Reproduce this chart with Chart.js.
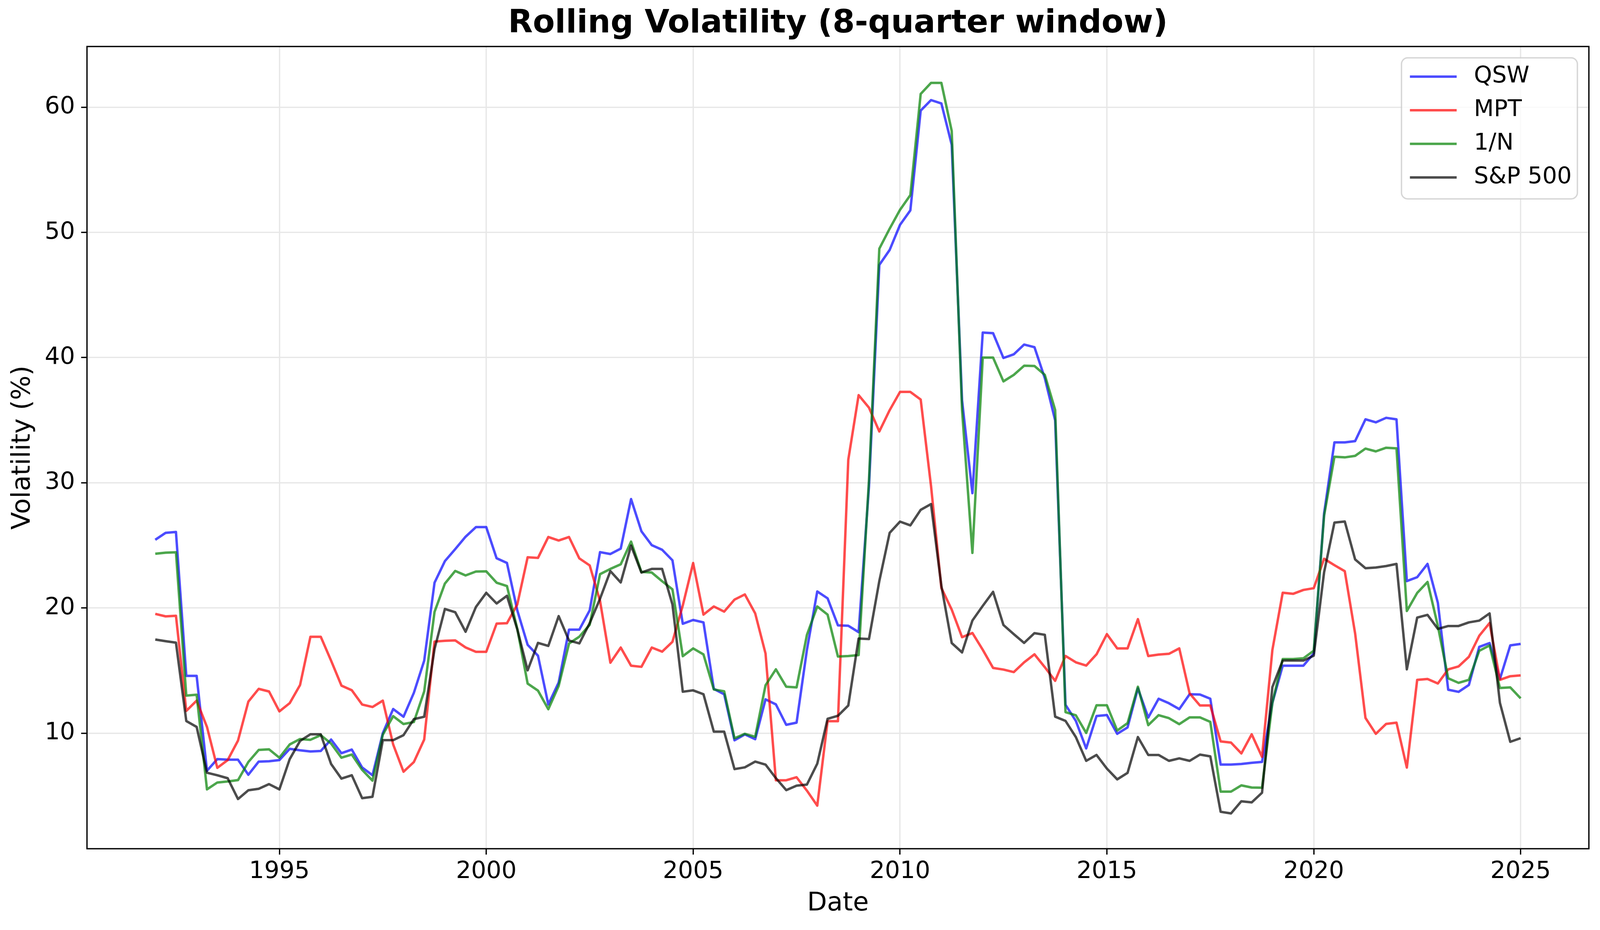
<!DOCTYPE html>
<html>
<head>
<meta charset="utf-8">
<script src="https://cdn.jsdelivr.net/npm/chart.js@4.4.1/dist/chart.umd.min.js"></script>
<style>
  html, body { margin: 0; padding: 0; background: #fff; overflow: hidden; }
  canvas { display: block; }
</style>
</head>
<body>
<canvas id="volChart"></canvas>
<script>
// quarterly points, first one at the start of 1992
const startYear = 1992;
const quarterStep = 0.25;

const seriesNames = ['QSW', 'MPT', '1/N', 'S&P 500'];
const seriesColors = ['rgba(0,0,255,0.7)', 'rgba(255,0,0,0.7)', 'rgba(0,128,0,0.7)', 'rgba(0,0,0,0.7)'];

const qsw = [
  25.45, 26.0, 26.07, 14.58, 14.58, 7.0, 7.93, 7.88, 7.88, 6.68, 7.73, 7.76,
  7.85, 8.75, 8.63, 8.54, 8.58, 9.49, 8.4, 8.69, 7.26, 6.64, 10.0, 11.93,
  11.31, 13.22, 15.79, 22.02, 23.74, 24.7, 25.69, 26.46, 26.46, 23.97, 23.6, 19.81,
  17.06, 16.19, 12.29, 14.05, 18.27, 18.27, 19.81, 24.46, 24.31, 24.74, 28.7, 26.13,
  25.02, 24.65, 23.81, 18.74, 19.04, 18.85, 13.54, 13.11, 9.43, 9.9, 9.52, 12.7,
  12.3, 10.67, 10.84, 16.65, 21.32, 20.77, 18.61, 18.58, 18.07, 29.7, 47.4, 48.6,
  50.6, 51.76, 59.73, 60.57, 60.3, 57.0, 36.58, 29.17, 42.0, 41.95, 39.97, 40.26,
  41.04, 40.83, 38.36, 34.99, 12.27, 10.98, 8.78, 11.37, 11.45, 9.95, 10.46, 13.58,
  11.25, 12.75, 12.39, 11.92, 13.11, 13.09, 12.75, 7.49, 7.49, 7.54, 7.63, 7.7,
  12.42, 15.39, 15.39, 15.39, 16.37, 27.55, 33.23, 33.23, 33.33, 35.07, 34.83, 35.19,
  35.07, 22.15, 22.46, 23.52, 20.41, 13.47, 13.3, 13.85, 16.89, 17.2, 14.33, 17.01,
  17.13
];

const mpt = [
  19.53, 19.33, 19.38, 11.78, 12.6, 10.5, 7.23, 7.85, 9.41, 12.52, 13.54, 13.33,
  11.74, 12.4, 13.85, 17.7, 17.7, 15.79, 13.8, 13.43, 12.29, 12.09, 12.6, 9.1,
  6.92, 7.69, 9.49, 17.32, 17.38, 17.41, 16.85, 16.5, 16.5, 18.75, 18.78, 20.28,
  24.05, 24.0, 25.67, 25.39, 25.67, 23.96, 23.4, 20.56, 15.63, 16.84, 15.39, 15.3,
  16.84, 16.51, 17.3, 20.2, 23.59, 19.47, 20.12, 19.71, 20.67, 21.08, 19.57, 16.36,
  6.24, 6.24, 6.48, 5.41, 4.21, 10.96, 10.96, 31.84, 37.0, 36.0, 34.1, 35.8,
  37.26, 37.26, 36.65, 29.74, 21.6, 19.87, 17.67, 18.0, 16.66, 15.21, 15.08, 14.88,
  15.66, 16.3, 15.27, 14.18, 16.17, 15.66, 15.4, 16.3, 17.91, 16.77, 16.77, 19.11,
  16.16, 16.28, 16.34, 16.77, 13.18, 12.21, 12.21, 9.34, 9.25, 8.38, 9.91, 8.11,
  16.64, 21.22, 21.13, 21.44, 21.58, 23.93, 23.42, 22.94, 17.97, 11.22, 9.95, 10.74,
  10.84, 7.25, 14.26, 14.33, 13.97, 15.1, 15.33, 16.1, 17.78, 18.8, 14.26, 14.55,
  14.62
];

const equalWeight = [
  24.33, 24.42, 24.45, 13.0, 13.07, 5.51, 6.06, 6.14, 6.25, 7.7, 8.66, 8.71,
  8.04, 9.1, 9.53, 9.47, 9.84, 9.17, 8.04, 8.29, 7.07, 6.21, 9.88, 11.36,
  10.73, 10.89, 13.33, 19.69, 21.95, 22.96, 22.6, 22.91, 22.93, 22.02, 21.75, 18.33,
  13.96, 13.4, 11.91, 13.77, 17.16, 17.71, 18.66, 22.7, 23.12, 23.49, 25.3, 22.88,
  22.83, 22.14, 21.49, 16.15, 16.77, 16.29, 13.49, 13.35, 9.59, 9.95, 9.71, 13.83,
  15.1, 13.71, 13.66, 17.85, 20.12, 19.47, 16.12, 16.16, 16.24, 30.2, 48.7, 50.3,
  51.8, 52.98, 61.06, 61.94, 61.94, 58.1, 35.8, 24.4, 40.0, 40.0, 38.1, 38.62,
  39.35, 39.33, 38.62, 35.82, 11.68, 11.43, 10.02, 12.23, 12.23, 10.21, 10.8, 13.71,
  10.64, 11.44, 11.2, 10.72, 11.26, 11.26, 10.9, 5.33, 5.33, 5.83, 5.66, 5.64,
  12.42, 15.92, 15.92, 15.98, 16.59, 27.37, 32.08, 32.03, 32.15, 32.73, 32.51, 32.8,
  32.75, 19.76, 21.2, 22.08, 18.56, 14.38, 14.02, 14.26, 16.58, 17.01, 13.61, 13.66,
  12.78
];

const sp500 = [
  17.48, 17.35, 17.23, 10.97, 10.5, 6.84, 6.64, 6.4, 4.74, 5.44, 5.56, 5.93,
  5.51, 7.93, 9.38, 9.91, 9.91, 7.54, 6.37, 6.64, 4.81, 4.92, 9.44, 9.44,
  9.84, 11.12, 11.31, 16.73, 19.92, 19.66, 18.1, 20.08, 21.21, 20.36, 20.97, 18.3,
  15.02, 17.21, 16.97, 19.35, 17.4, 17.17, 18.79, 20.74, 22.94, 22.04, 24.98, 22.83,
  23.12, 23.12, 20.28, 13.31, 13.42, 13.11, 10.12, 10.12, 7.13, 7.27, 7.73, 7.49,
  6.41, 5.45, 5.81, 5.89, 7.56, 11.15, 11.39, 12.21, 17.56, 17.52, 22.15, 26.0,
  26.9, 26.6, 27.84, 28.3, 21.77, 17.2, 16.45, 19.0, 20.17, 21.29, 18.64, 17.91,
  17.21, 17.99, 17.86, 11.32, 10.98, 9.69, 7.79, 8.26, 7.17, 6.31, 6.83, 9.69,
  8.26, 8.26, 7.79, 7.99, 7.79, 8.29, 8.15, 3.72, 3.59, 4.56, 4.47, 5.24,
  13.68, 15.8, 15.8, 15.8, 16.19, 22.85, 26.82, 26.91, 23.88, 23.18, 23.23, 23.35,
  23.52, 15.1, 19.23, 19.45, 18.33, 18.56, 18.56, 18.85, 18.99, 19.57, 12.42, 9.31,
  9.6
];

const xTicks = [1995, 2000, 2005, 2010, 2015, 2020, 2025];
const yTicks = [10, 20, 30, 40, 50, 60];

const dates = qsw.map((_, i) => startYear + i * quarterStep);
const allSeries = [qsw, mpt, equalWeight, sp500];

// the layout was measured on a 4175x2380 picture; stretch it to the real window
const W = window.innerWidth || 4175;
const H = window.innerHeight || 2380;
const sx = W / 4175;
const sy = H / 2380;
const fs = (sx + sy) / 2;

const FONT = 'DejaVu Sans';
const LINE_W = 6.25;
const THIN_W = 3.33;

const canvas = document.getElementById('volChart');
canvas.width = W;
canvas.height = H;

// matplotlib style frame round the plot area
const framePlugin = {
  id: 'frame',
  afterDatasetsDraw(chart) {
    const { ctx, chartArea: a } = chart;
    ctx.save();
    ctx.strokeStyle = '#000';
    ctx.lineWidth = THIN_W;
    ctx.strokeRect(a.left, a.top, a.right - a.left, a.bottom - a.top);
    ctx.restore();
  }
};

// legend drawn inside the axes, upper right
const legendPlugin = {
  id: 'innerLegend',
  afterDraw(chart) {
    const { ctx, chartArea: a } = chart;
    const right = a.right - 30 * sx;
    const top = a.top + 29 * sy;
    const w = 459 * sx, h = 361 * sy, rowH = 86 * sy;
    const left = right - w;
    ctx.save();
    ctx.beginPath();
    ctx.roundRect(left, top, w, h, 16);
    ctx.fillStyle = 'rgba(255,255,255,0.8)';
    ctx.fill();
    ctx.strokeStyle = 'rgba(204,204,204,0.8)';
    ctx.lineWidth = 3.5;
    ctx.stroke();

    ctx.font = Math.round(60 * fs) + 'px "' + FONT + '"';
    ctx.textBaseline = 'middle';
    ctx.textAlign = 'left';
    seriesNames.forEach((name, i) => {
      const y = top + 48 * sy + i * rowH;
      ctx.strokeStyle = seriesColors[i];
      ctx.lineWidth = LINE_W;
      ctx.beginPath();
      ctx.moveTo(left + 22 * sx, y);
      ctx.lineTo(left + 144 * sx, y);
      ctx.stroke();
      ctx.fillStyle = '#000';
      ctx.fillText(name, left + 189 * sx, y);
    });
    ctx.restore();
  }
};

const gridOpts = {
  color: '#e7e7e7',
  lineWidth: THIN_W,
  tickColor: '#000',
  tickWidth: THIN_W,
  tickLength: 15
};

new Chart(canvas.getContext('2d'), {
  type: 'line',
  data: {
    datasets: allSeries.map((vals, i) => ({
      label: seriesNames[i],
      data: vals.map((v, j) => ({ x: dates[j], y: v })),
      borderColor: seriesColors[i],
      borderWidth: LINE_W,
      borderJoinStyle: 'round',
      pointRadius: 0,
      tension: 0,
      fill: false,
      order: allSeries.length - i
    }))
  },
  options: {
    responsive: false,
    animation: false,
    devicePixelRatio: 1,
    layout: { padding: { left: 0, right: 29 * sx, top: 0, bottom: 0 } },
    plugins: {
      legend: { display: false },
      tooltip: { enabled: false },
      title: {
        display: true,
        text: 'Rolling Volatility (8-quarter window)',
        color: '#000',
        fullSize: false,
        font: { family: FONT, size: Math.round(83 * fs), weight: 'bold', lineHeight: 1.2 },
        padding: { top: 13 * sy, bottom: 119 * sy - 13 * sy - Math.round(83 * fs) * 1.2 }
      }
    },
    scales: {
      x: {
        type: 'linear',
        min: 1990.35,
        max: 2026.65,
        afterBuildTicks: axis => { axis.ticks = xTicks.map(v => ({ value: v })); },
        afterFit: scale => { scale.height = 208 * sy; },
        border: { display: false },
        grid: gridOpts,
        ticks: {
          color: '#000',
          padding: 8,
          maxRotation: 0,
          font: { family: FONT, size: Math.round(62 * fs) },
          callback: v => String(v)
        },
        title: {
          display: true,
          text: 'Date',
          color: '#000',
          font: { family: FONT, size: Math.round(67 * fs), lineHeight: 1.2 },
          padding: { top: 0, bottom: 28 * sy }
        }
      },
      y: {
        type: 'linear',
        min: 0.77,
        max: 64.85,
        afterBuildTicks: axis => { axis.ticks = yTicks.map(v => ({ value: v })); },
        afterFit: scale => { scale.width = 227 * sx; },
        border: { display: false },
        grid: gridOpts,
        ticks: {
          color: '#000',
          padding: 16 * sx,
          font: { family: FONT, size: Math.round(62 * fs) },
          callback: v => String(v)
        },
        title: {
          display: true,
          text: 'Volatility (%)',
          color: '#000',
          font: { family: FONT, size: Math.round(67 * fs), lineHeight: 1.2 },
          padding: { top: 60 * sx - Math.round(67 * fs) * 0.6, bottom: 0 }
        }
      }
    }
  },
  plugins: [framePlugin, legendPlugin]
});
</script>
</body>
</html>
